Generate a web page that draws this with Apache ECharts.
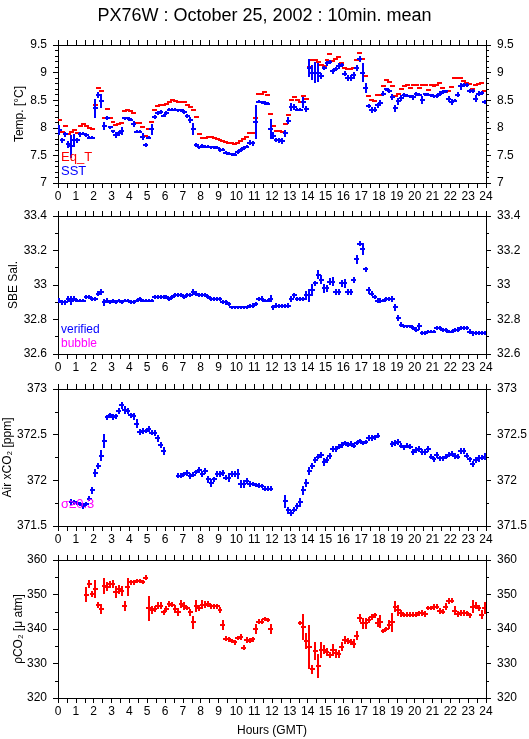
<!DOCTYPE html>
<html>
<head>
<meta charset="utf-8">
<script src="https://cdn.jsdelivr.net/npm/echarts@6/dist/echarts.min.js"></script>
<style>
html,body{margin:0;padding:0;background:#fff;}
#chart{width:529px;height:739px;}
</style>
</head>
<body>
<div id="chart"></div>
<script>
// ---- DATA (10-minute means, 144 slots over 24 h) ----
const TITLE = 'PX76W : October 25, 2002 : 10min. mean';
const X_TICKS = [0,1,2,3,4,5,6,7,8,9,10,11,12,13,14,15,16,17,18,19,20,21,22,23,24];

const EQ_T = [
 8.14,7.93,8.04,7.88,7.92,7.96, 7.91,8.03,8.06,8.03,7.99,7.98,
 8.42,8.72,8.67,8.18,8.34,8.18, 8.10,8.05,8.07,8.08,8.30,8.32,
 8.31,8.27,8.09,8.09,8.02,7.85, 7.98,8.10,8.32,8.39,8.41,8.41,
 8.43,8.46,8.50,8.49,8.47,8.47, 8.46,8.42,8.38,8.32,8.20,7.88,
 7.82,7.82,7.83,7.83,7.81,7.80, 7.77,7.76,7.75,7.73,7.72,7.70,
 7.73,7.76,7.80,7.83,7.90,7.90, 8.17,8.62,8.62,8.64,8.60,8.25,
 8.04,7.95,7.94,7.92,8.07,8.24, 8.50,8.55,8.50,8.47,8.57,8.52,
 9.10,9.23,9.22,9.20,9.14,9.12, 9.22,9.33,9.21,9.25,9.28,9.17,
 9.08,9.06,9.07,9.08,9.23,9.36, 9.24,8.93,8.58,8.50,8.48,8.60,
 8.60,8.76,8.87,8.83,8.76,8.57, 8.62,8.70,8.75,8.77,8.73,8.77,
 8.77,8.73,8.77,8.77,8.68,8.77, 8.75,8.78,8.82,8.72,8.65,8.66,
 8.74,8.90,8.91,8.90,8.85,8.82, 8.80,8.70,8.78,8.80,8.81,8.66
];
const SST = [
 7.96,7.77,7.88,7.70,7.67,7.77, 7.77,7.88,7.89,7.87,7.82,7.82,
 8.35,8.59,8.48,8.03,8.18,8.01, 7.94,7.87,7.90,7.94,8.17,8.17,
 8.15,8.07,7.93,7.93,7.84,7.69, 7.82,7.97,8.19,8.27,8.28,8.22,
 8.27,8.33,8.33,8.33,8.32,8.32, 8.29,8.22,8.14,7.98,7.69,7.65,
 7.67,7.66,7.66,7.65,7.65,7.64, 7.60,7.60,7.55,7.53,7.52,7.51,
 7.56,7.60,7.63,7.66,7.73,7.72, 8.10,8.47,8.46,8.45,8.44,7.98,
 7.86,7.78,7.77,7.76,7.90,8.13, 8.38,8.38,8.33,8.33,8.46,8.34,
 9.08,9.00,9.00,9.00,8.94,9.09, 9.17,9.19,9.02,9.06,9.12,9.14,
 8.98,8.90,8.90,8.95,9.08,9.25, 9.00,8.72,8.39,8.32,8.33,8.41,
 8.45,8.62,8.70,8.67,8.56,8.35, 8.48,8.54,8.59,8.58,8.57,8.55,
 8.61,8.60,8.50,8.61,8.60,8.59, 8.57,8.58,8.62,8.65,8.66,8.52,
 8.47,8.49,8.60,8.75,8.77,8.77, 8.67,8.66,8.53,8.62,8.63,8.47
];
const SST_SD = [
 .08,.03,.02,.05,.19,.10, .03,.02,.01,.01,.01,.01,
 .15,.04,.11,.06,.02,.01, .01,.03,.03,.05,.01,.01,
 .01,.03,.01,.01,.04,.02, .01,.08,.02,.02,.02,.01,
 .02,.01,.01,.01,.01,.01, .02,.02,.03,.09,.02,.01,
 .01,.01,.01,.01,.01,.01, .02,.01,.01,.01,.01,.01,
 .02,.02,.02,.01,.03,.03, .29,.01,.01,.01,.01,.16,
 .05,.02,.02,.03,.05,.05, .06,.04,.01,.01,.08,.03,
 .14,.12,.17,.16,.03,.02, .03,.02,.03,.02,.03,.02,
 .03,.03,.03,.04,.04,.04, .15,.08,.02,.03,.03,.03,
 .04,.03,.01,.02,.04,.04, .04,.04,.02,.01,.01,.02,
 .02,.01,.05,.01,.01,.01, .01,.02,.03,.02,.01,.03,
 .03,.01,.03,.04,.02,.02, .02,.02,.04,.03,.02,.02
];
const SAL = [
 32.91,32.90,32.90,32.92,32.91,32.92, 32.91,32.91,32.91,32.93,32.93,32.92,
 32.92,32.95,32.96,32.90,32.91,32.90, 32.91,32.90,32.91,32.90,32.91,32.91,
 32.90,32.90,32.91,32.92,32.91,32.91, 32.91,32.91,32.93,32.93,32.93,32.93,
 32.93,32.92,32.93,32.94,32.94,32.94, 32.93,32.94,32.94,32.96,32.95,32.94,
 32.94,32.94,32.93,32.92,32.92,32.92, 32.92,32.90,32.90,32.89,32.87,32.87,
 32.87,32.87,32.87,32.87,32.88,32.88, 32.89,32.92,32.92,32.91,32.91,32.92,
 32.87,32.88,32.88,32.88,32.88,32.88, 32.92,32.94,32.92,32.92,32.92,32.94,
 32.94,32.97,33.01,33.06,33.03,32.98, 32.98,33.02,33.02,32.96,32.96,33.01,
 33.01,32.96,32.96,33.03,33.15,33.24, 33.21,33.09,32.97,32.95,32.93,32.91,
 32.91,32.91,32.92,32.92,32.92,32.87, 32.81,32.77,32.76,32.76,32.76,32.75,
 32.74,32.76,32.72,32.72,32.73,32.73, 32.73,32.75,32.75,32.74,32.74,32.73,
 32.73,32.74,32.74,32.75,32.75,32.75, 32.73,32.72,32.72,32.72,32.72,32.72
];
const SAL_SD = [
 .010,.008,.008,.010,.020,.008, .005,.005,.005,.005,.005,.005,
 .005,.010,.010,.015,.008,.005, .005,.005,.005,.005,.005,.005,
 .005,.005,.005,.005,.005,.005, .005,.005,.008,.005,.005,.005,
 .005,.005,.005,.005,.005,.005, .005,.005,.005,.012,.008,.005,
 .005,.005,.005,.005,.005,.005, .005,.005,.008,.005,.005,.005,
 .005,.005,.005,.005,.005,.008, .008,.005,.008,.005,.005,.015,
 .010,.008,.005,.005,.005,.008, .010,.008,.005,.005,.005,.020,
 .030,.030,.010,.020,.020,.020, .015,.015,.020,.012,.012,.015,
 .020,.010,.010,.010,.020,.008, .030,.010,.015,.010,.008,.008,
 .008,.005,.005,.005,.010,.015, .012,.008,.005,.005,.005,.005,
 .008,.015,.005,.005,.005,.005, .005,.005,.005,.005,.005,.005,
 .005,.005,.008,.005,.005,.005, .010,.008,.005,.005,.005,.005
];
const AIR_XCO2 = [
 null,null,null,null,371.76,371.76, 371.75,371.74,371.72,371.74,371.80,371.89,
 372.08,372.16,372.27,372.43,372.69,372.71, 372.69,372.70,372.76,372.82,372.77,372.76,
 372.71,372.70,372.62,372.53,372.54,372.54, 372.56,372.52,372.52,372.46,372.39,372.32,
 null,null,null,null,372.05,372.05, 372.07,372.08,372.05,372.06,372.09,372.11,
 372.07,372.10,372.01,371.97,372.01,372.07, 372.07,372.08,372.03,372.03,372.07,372.07,
 372.07,371.96,371.96,371.99,371.96,371.96, 371.95,371.94,371.94,371.91,371.91,371.91,
 null,null,null,null,371.77,371.67, 371.64,371.68,371.72,371.76,371.89,371.97,
 372.10,372.16,372.22,372.26,372.28,372.20, 372.22,372.27,372.34,372.34,372.37,372.39,
 372.41,372.39,372.40,372.38,372.41,372.43, 372.41,372.42,372.46,372.46,372.47,372.49,
 null,null,null,null,372.40,372.41, 372.42,372.38,372.36,372.38,372.37,372.31,
 372.33,372.34,372.31,372.31,372.34,372.26, 372.23,372.28,372.24,372.24,372.26,372.28,
 372.29,372.27,372.26,372.32,372.32,372.27, 372.23,372.18,372.22,372.24,372.25,372.26
];
const AIR_SD = [
 0,0,0,0,.02,.015, .01,.015,.02,.015,.015,.03,
 .03,.02,.05,.07,.015,.02, .02,.02,.02,.03,.03,.02,
 .02,.03,.04,.02,.02,.015, .02,.015,.02,.03,.02,.03,
 0,0,0,0,.015,.015, .015,.02,.02,.015,.015,.02,
 .02,.02,.03,.03,.02,.02, .02,.02,.02,.04,.02,.02,
 .04,.03,.03,.02,.02,.015, .015,.015,.01,.015,.015,.015,
 0,0,0,0,.06,.03, .02,.02,.02,.04,.04,.03,
 .03,.02,.02,.02,.02,.03, .02,.02,.02,.02,.015,.02,
 .015,.015,.015,.02,.015,.015, .015,.015,.02,.02,.02,.015,
 0,0,0,0,.02,.02, .025,.02,.02,.02,.015,.02,
 .02,.02,.02,.02,.02,.02, .02,.02,.015,.015,.015,.015,
 .015,.02,.015,.02,.02,.015, .02,.02,.02,.03,.02,.03
];
const PCO2 = [
 null,null,null,null,null,null, null,null,null,350.0,353.1,350.1,
 351.5,346.9,345.8,352.4,352.2,352.9, 353.1,350.8,351.5,351.0,346.6,352.2,
 353.5,353.5,353.9,353.9,353.6,354.9, 346.0,345.5,345.8,346.7,346.7,344.8,
 345.8,347.2,347.1,345.8,345.0,347.2, 346.7,346.1,344.8,341.9,346.6,346.2,
 347.1,347.1,347.2,346.6,346.6,346.6, 345.5,341.1,337.2,337.0,336.5,336.1,
 337.4,337.6,334.6,336.8,336.6,337.0, 340.0,342.1,342.1,342.9,342.6,340.0,
 null,null,null,null,null,null, null,null,null,341.8,340.6,336.5,
 334.8,328.3,333.7,329.3,334.0,334.0, 333.4,332.5,334.0,333.0,332.8,334.8,
 336.8,336.4,336.3,335.7,338.0,343.2, 341.6,341.6,342.6,343.5,344.0,341.8,
 342.1,339.4,340.0,341.3,341.9,346.4, 345.5,344.5,344.0,344.2,344.2,344.2,
 344.2,344.5,344.7,344.4,346.0,346.2, 346.4,346.5,345.2,345.0,346.5,348.1,
 348.2,345.3,344.3,344.6,344.6,344.5, 344.0,346.5,346.8,346.2,344.2,346.0
];
const PCO2_SD = [
 0,0,0,0,0,0, 0,0,0,2.0,0.8,0.6,
 2.3,0.6,1.2,2.0,1.0,0.6, 0.8,1.5,1.0,1.2,1.2,2.3,
 0.4,0.4,0.4,0.4,0.4,0.5, 3.3,1.0,0.5,0.7,0.7,0.4,
 0.7,0.5,0.4,0.8,0.8,0.8, 0.8,0.4,0.6,1.5,1.5,0.6,
 1.0,0.6,0.5,0.4,0.4,0.4, 0.6,1.2,0.4,0.4,0.4,0.4,
 0.4,0.6,0.5,0.5,0.4,0.4, 1.2,0.5,0.4,0.3,0.3,1.2,
 0,0,0,0,0,0, 0,0,0,0.3,3.5,2.0,
 6.0,1.0,2.3,3.2,2.0,1.0, 0.8,0.6,1.5,1.0,0.8,1.0,
 0.8,0.6,0.6,1.0,1.0,1.0, 1.3,1.2,0.7,0.5,0.4,1.0,
 1.6,0.4,0.4,1.0,2.5,1.3, 1.3,0.6,0.3,0.3,0.3,0.3,
 0.3,0.4,0.5,0.5,0.3,0.3, 0.5,0.5,0.5,0.4,0.8,0.5,
 0.4,1.0,0.6,0.6,0.5,0.4, 0.4,1.5,0.8,0.6,1.0,1.5
];
// nominal centre time (hours GMT) of each 10-minute slot
const HOURS = EQ_T.map((_, i) => (i + 0.5) / 6);

// ---- CHART ----
const FONT = '"Liberation Sans", Arial, Helvetica, sans-serif';
const BLACK = '#000';
const RED = '#ff0000', BLUE = '#0000ff', MAGENTA = '#ff00ff';

const PANELS = [
  {top: 45,  height: 138, min: 7,     max: 9.5,  interval: 0.5, minor: 5, name: 'Temp. [°C]',      gap: 32},
  {top: 216, height: 138, min: 32.6,  max: 33.4, interval: 0.2, minor: 2, name: 'SBE Sal.',        gap: 38},
  {top: 389, height: 137, min: 371.5, max: 373,  interval: 0.5, minor: 2, name: 'Air xCO₂ [ppm]', gap: 44},
  {top: 560, height: 138, min: 320,   max: 360,  interval: 10,  minor: 2, name: 'ρCO₂ [μ atm]',   gap: 33}
];

function fmt(v){ return String(Math.round(v * 100) / 100); }

function pts(vals, sds){
  const out = [];
  vals.forEach((v, i) => { if (v != null) out.push([HOURS[i], v, sds ? sds[i] : 0]); });
  return out;
}

function renderer(color){
  return function(params, api){
    const t = api.value(0), v = api.value(1), s = api.value(2);
    const a = api.coord([t - 1/12, v]), b = api.coord([t + 1/12, v]);
    const style = {stroke: color, lineWidth: 2, lineCap: 'butt'};
    const y = Math.round(a[1]);
    const children = [{type: 'line', shape: {x1: Math.round(a[0]) - 1, y1: y, x2: Math.round(b[0]) + 1, y2: y}, style: style}];
    if (s > 0) {
      const c = api.coord([t, v - s]), d = api.coord([t, v + s]);
      const x = Math.round(api.coord([t, v])[0]);
      children.push({type: 'line', shape: {x1: x, y1: Math.round(c[1]) + 1, x2: x, y2: Math.round(d[1]) - 1}, style: {stroke: color, lineWidth: 2}});
    }
    return {type: 'group', children: children};
  };
}

const grids = [], xAxes = [], yAxes = [], series = [];
PANELS.forEach((p, i) => {
  grids.push({left: 58, right: 43, top: p.top, height: p.height, containLabel: false, outerBoundsMode: 'none'});
  const xBase = {
    gridIndex: i, type: 'value', min: X_TICKS[0], max: X_TICKS[X_TICKS.length - 1], interval: 1,
    axisLine: {show: true, onZero: false, lineStyle: {color: BLACK, width: 1}},
    axisTick: {show: true, inside: false, length: 5, lineStyle: {color: BLACK}},
    minorTick: {show: true, splitNumber: 2, length: 5, lineStyle: {color: BLACK}},
    splitLine: {show: false}, minorSplitLine: {show: false}
  };
  xAxes.push(Object.assign({}, xBase, {
    position: 'bottom',
    axisLabel: {show: true, fontSize: 12, color: BLACK, fontFamily: FONT, margin: 8, formatter: fmt},
    name: i === 3 ? 'Hours (GMT)' : '', nameLocation: 'middle', nameGap: 27, nameMoveOverlap: false,
    nameTextStyle: {fontSize: 12, color: BLACK, fontFamily: FONT}
  }));
  xAxes.push(Object.assign({}, xBase, {position: 'top', axisLabel: {show: false}}));
  const yBase = {
    gridIndex: i, type: 'value', min: p.min, max: p.max, interval: p.interval,
    axisLine: {show: true, onZero: false, lineStyle: {color: BLACK, width: 1}},
    axisTick: {show: true, inside: false, length: 5, lineStyle: {color: BLACK}},
    minorTick: {show: true, splitNumber: p.minor, length: 3, lineStyle: {color: BLACK}},
    splitLine: {show: false}, minorSplitLine: {show: false},
    axisLabel: {show: true, fontSize: 12, color: BLACK, fontFamily: FONT, margin: 11, formatter: fmt}
  };
  yAxes.push(Object.assign({}, yBase, {
    position: 'left', name: p.name, nameLocation: 'middle', nameGap: p.gap, nameRotate: 90,
    nameMoveOverlap: false,
    nameTextStyle: {fontSize: 12, color: BLACK, fontFamily: FONT}
  }));
  yAxes.push(Object.assign({}, yBase, {position: 'right'}));
});

function addSeries(name, panel, vals, sds, color){
  series.push({
    name: name, type: 'custom', xAxisIndex: panel * 2, yAxisIndex: panel * 2,
    renderItem: renderer(color), encode: {x: 0, y: 1}, clip: true,
    data: pts(vals, sds), silent: true
  });
}
addSeries('Eq_T', 0, EQ_T, null, RED);
addSeries('SST', 0, SST, SST_SD, BLUE);
addSeries('SBE Sal.', 1, SAL, SAL_SD, BLUE);
addSeries('Air xCO2', 2, AIR_XCO2, AIR_SD, BLUE);
addSeries('pCO2', 3, PCO2, PCO2_SD, RED);

function label(text, x, y, color, size){
  return {type: 'text', left: x, top: y, z: 100, style: {text: text, fill: color, fontSize: size || 12, fontFamily: FONT}};
}

const option = {
  animation: false,
  backgroundColor: '#fff',
  title: {text: TITLE, left: 'center', top: 2, textStyle: {fontSize: 18, fontWeight: 'normal', color: BLACK, fontFamily: FONT}},
  grid: grids, xAxis: xAxes, yAxis: yAxes, series: series,
  graphic: [
    label('Eq_T', 61, 151, RED, 13),
    label('SST', 61, 165, BLUE, 13),
    label('verified', 61, 324, BLUE, 12),
    label('bubble', 61, 338, MAGENTA, 12),
    label('σ≥0.3', 61, 498, MAGENTA, 13)
  ]
};

const chart = echarts.init(document.getElementById('chart'), null, {renderer: 'canvas'});
chart.setOption(option);
</script>
</body>
</html>
